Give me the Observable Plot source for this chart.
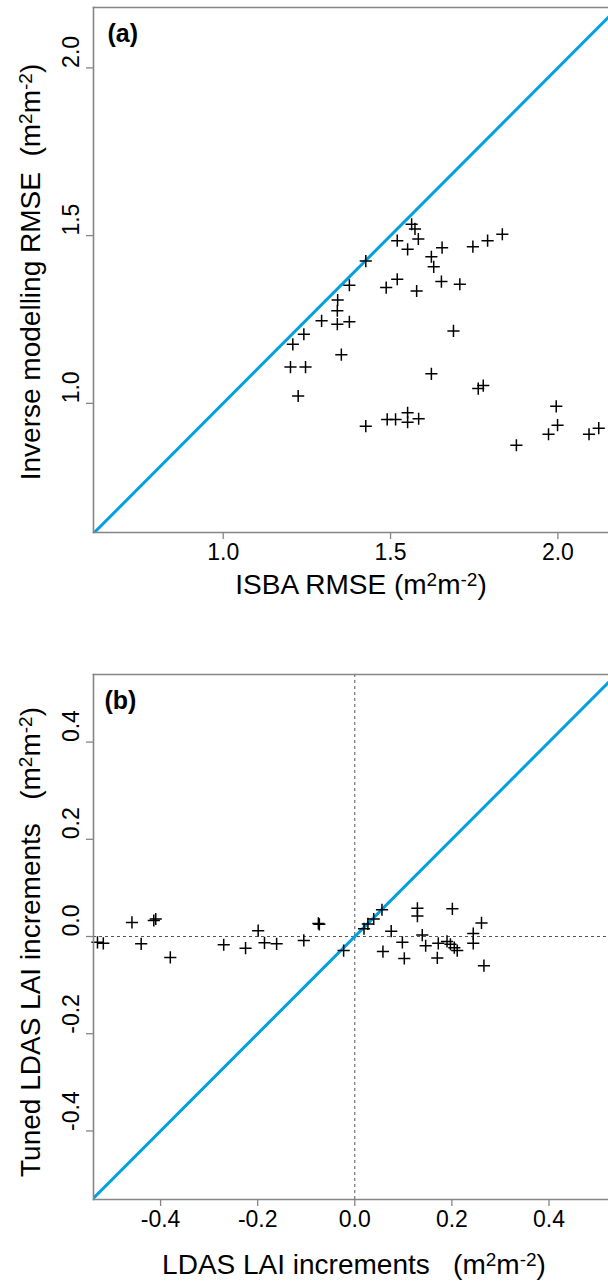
<!DOCTYPE html>
<html><head><meta charset="utf-8">
<script src="https://cdn.jsdelivr.net/npm/d3@7"></script>
<script src="https://cdn.jsdelivr.net/npm/@observablehq/plot@0.6"></script>
<style>
html,body{margin:0;padding:0;background:#fff;overflow:hidden;}
#chart svg{display:block;}
</style></head><body><div id="chart"></div>
<script>
// ---------- Panel (a) data ----------
const isbaRmse = [1.563,1.573,1.520,1.583,1.551,1.654,1.746,1.790,1.834,1.622,1.629,1.426,1.377,1.520,1.487,1.578,1.652,1.707,1.342,1.341,1.294,1.341,1.377,1.241,1.208,1.201,1.246,1.353,1.224,1.688,1.622,1.762,1.777,1.426,1.490,1.515,1.551,1.551,1.584,1.876,1.972,1.999,1.995,2.093,2.122];
const inverseRmse = [1.534,1.520,1.485,1.490,1.459,1.464,1.467,1.485,1.504,1.437,1.407,1.424,1.352,1.370,1.345,1.335,1.363,1.355,1.308,1.276,1.246,1.236,1.243,1.206,1.176,1.108,1.108,1.145,1.022,1.216,1.088,1.044,1.053,0.932,0.952,0.952,0.972,0.944,0.954,0.875,0.908,0.935,0.991,0.908,0.926];
const ticksA = [1.0, 1.5, 2.0];
const domainXA = [0.6125, 2.1512];
const domainYA = [0.615, 2.18];
const diagA = [0.6, 2.2];

// ---------- Panel (b) data ----------
const ldasInc = [-0.530,-0.518,-0.459,-0.414,-0.410,-0.440,-0.380,-0.270,-0.225,-0.199,-0.186,-0.161,-0.105,-0.075,-0.073,-0.023,0.019,0.027,0.039,0.056,0.075,0.058,0.098,0.102,0.129,0.129,0.139,0.146,0.172,0.170,0.190,0.197,0.205,0.211,0.201,0.244,0.244,0.261,0.266];
const tunedInc = [-0.012,-0.014,0.029,0.033,0.036,-0.015,-0.043,-0.017,-0.024,0.012,-0.013,-0.015,-0.008,0.027,0.025,-0.029,0.016,0.026,0.036,0.055,0.011,-0.031,-0.012,-0.045,0.058,0.042,0.003,-0.019,-0.014,-0.044,-0.010,-0.016,-0.023,-0.029,0.057,0.006,-0.014,0.028,-0.060];
const ticksB = [-0.4, -0.2, 0.0, 0.2, 0.4];
const domainXB = [-0.5382, 0.5226];
const domainYB = [-0.541, 0.539];
const diagB = [-0.6, 0.6];
const zeroLine = [0];

// ---------- Text ----------
const panelLabels = ["(a)", "(b)"];
const unitParts = [["(m", false], ["2", true], ["m", false], ["-2", true], [")", false]];
const xTitleA = [["ISBA RMSE ", false], ...unitParts];
const yTitleA = [["Inverse modelling RMSE  ", false], ...unitParts];
const xTitleB = [["LDAS LAI increments   ", false], ...unitParts];
const yTitleB = [["Tuned LDAS LAI increments   ", false], ...unitParts];

const FONT = "'Liberation Sans', Arial, Helvetica, sans-serif";
const FRAME = "#858585";
const BLUE = "#00a0e3";

const dataA = isbaRmse.map((x, i) => ({x, y: inverseRmse[i]}));
const dataB = ldasInc.map((x, i) => ({x, y: tunedInc[i]}));
const fmt = d => d.toFixed(1);

function frameMarks() {
  return [
    Plot.frame({anchor: "left", stroke: FRAME, strokeWidth: 1.6}),
    Plot.frame({anchor: "top", stroke: FRAME, strokeWidth: 1.6}),
    Plot.frame({anchor: "bottom", stroke: FRAME, strokeWidth: 1.6})
  ];
}
function axisMarks(ticks) {
  return [
    Plot.axisX({ticks, tickSize: 7, stroke: FRAME, strokeWidth: 1.3, fill: "none", label: null, anchor: "bottom"}),
    Plot.axisY({ticks, tickSize: 7, stroke: FRAME, strokeWidth: 1.3, fill: "none", label: null, anchor: "left"}),
    Plot.text(ticks, {x: d => d, text: fmt, frameAnchor: "bottom", lineAnchor: "bottom", dy: 27, fontSize: 23, fill: "black"}),
    Plot.text(ticks, {y: d => d, text: fmt, frameAnchor: "left", lineAnchor: "bottom", rotate: -90, dx: -15, fontSize: 23, fill: "black"})
  ];
}

function addTitle(svg, parts, x, y, rotate) {
  const t = d3.select(svg).append("text")
    .attr("transform", `translate(${x},${y})` + (rotate ? ` rotate(${rotate})` : ""))
    .attr("text-anchor", "middle")
    .attr("font-family", FONT)
    .attr("font-size", 28)
    .attr("fill", "black")
    .style("white-space", "pre");
  let raised = false;
  for (const [s, sup] of parts) {
    const ts = t.append("tspan").text(s);
    if (sup) {
      ts.attr("font-size", 19);
      if (!raised) { ts.attr("dy", -8); raised = true; }
    } else if (raised) { ts.attr("dy", 8); raised = false; }
  }
}

const plotA = Plot.plot({
  width: 608, height: 620,
  marginTop: 7, marginLeft: 93, marginRight: 0, marginBottom: 88,
  style: {fontFamily: FONT, fontSize: "22px", background: "white", color: "black"},
  x: {domain: domainXA},
  y: {domain: domainYA},
  marks: [
    Plot.line(diagA, {x: d => d, y: d => d, stroke: BLUE, strokeWidth: 3, clip: true}),
    Plot.dot(dataA, {x: "x", y: "y", symbol: "plus", r: 4, stroke: "black", strokeWidth: 1.5}),
    ...frameMarks(),
    ...axisMarks(ticksA),
    Plot.text([panelLabels[0]], {text: d => d, frameAnchor: "top-left", textAnchor: "start", lineAnchor: "bottom", dx: 14, dy: 34, fontSize: 25, fontWeight: "bold", fill: "black"})
  ]
});
addTitle(plotA, xTitleA, 361, 594, 0);
addTitle(plotA, yTitleA, 40, 272, -90);

const plotB = Plot.plot({
  width: 608, height: 663,
  marginTop: 54, marginLeft: 93, marginRight: 0, marginBottom: 84,
  style: {fontFamily: FONT, fontSize: "22px", background: "white", color: "black"},
  x: {domain: domainXB},
  y: {domain: domainYB},
  marks: [
    Plot.ruleX(zeroLine, {stroke: "#555", strokeWidth: 1, strokeDasharray: "3,3"}),
    Plot.ruleY(zeroLine, {stroke: "#555", strokeWidth: 1, strokeDasharray: "3,3"}),
    Plot.line(diagB, {x: d => d, y: d => d, stroke: BLUE, strokeWidth: 3, clip: true}),
    Plot.dot(dataB, {x: "x", y: "y", symbol: "plus", r: 4, stroke: "black", strokeWidth: 1.5}),
    ...frameMarks(),
    ...axisMarks(ticksB),
    Plot.text([panelLabels[1]], {text: d => d, frameAnchor: "top-left", textAnchor: "start", lineAnchor: "bottom", dx: 11, dy: 34, fontSize: 25, fontWeight: "bold", fill: "black"})
  ]
});
addTitle(plotB, xTitleB, 354, 654, 0);
addTitle(plotB, yTitleB, 40, 322, -90);

document.getElementById("chart").append(plotA, plotB);
</script></body></html>
